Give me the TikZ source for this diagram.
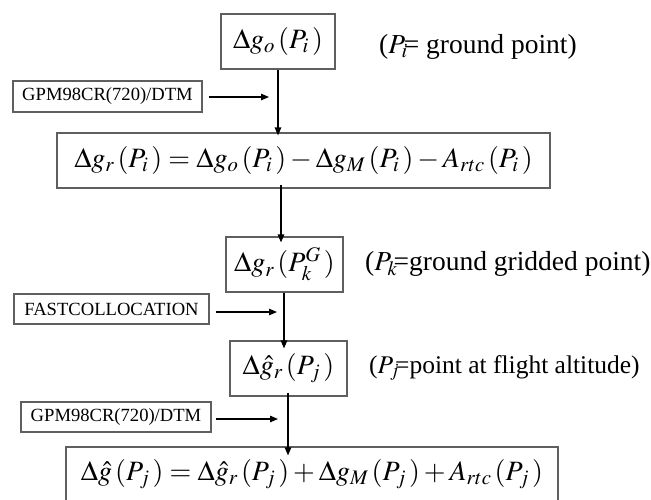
\documentclass[tikz,border=0pt]{standalone}
\usepackage{mathptmx}
\usepackage[no-math]{fontspec}
\setmainfont{Liberation Serif}
\usetikzlibrary{arrows.meta}
\definecolor{boxgray}{RGB}{95,95,95}
\newcommand{\gp}{\mkern2mu}
\begin{document}
\begin{tikzpicture}[x=1pt,y=-1pt,
  box/.style={draw=boxgray, line width=1.2pt, inner sep=0pt, anchor=center},
  big/.style={font=\fontsize{28}{32}\selectfont},
  small/.style={font=\fontsize{18.6}{22}\selectfont},
  arr/.style={-{Triangle[length=8pt,width=6.5pt]}, line width=1.2pt, black},
  note/.style={anchor=west, inner sep=0pt, font=\fontsize{27.5}{30}\selectfont}]
\useasboundingbox (0,0) rectangle (651,499);

% main boxes
\node[box,big,minimum width=114pt,minimum height=55pt] (b1) at (278,41.5) {$\Delta g_o\gp(P_i\gp)$};
\node[box,big,minimum width=493pt,minimum height=55pt] (b2) at (303.5,160.5)
  {$\Delta g_r\gp(P_i\gp)=\Delta g_o\gp(P_i\gp)-\Delta g_M\gp(P_i\gp)-A_{rtc}\gp(P_i\gp)$};
\node[box,big,minimum width=117pt,minimum height=55pt] (b3) at (284.5,264.5) {$\Delta g_r\gp(P_k^G\gp)$};
\node[box,big,minimum width=117pt,minimum height=55pt] (b4) at (288.5,368.5) {$\Delta \hat{g}_r\gp(P_j\gp)$};
\node[box,big,minimum width=492pt,minimum height=55pt] (b5) at (312,474.5)
  {$\Delta \hat{g}\gp(P_j\gp)=\Delta \hat{g}_r\gp(P_j\gp)+\Delta g_M\gp(P_j\gp)+A_{rtc}\gp(P_j\gp)$};

% side boxes
\node[box,small,minimum width=189pt,minimum height=31pt] (g1) at (107.5,96.5) {GPM98CR(720)/DTM};
\node[box,small,minimum width=195pt,minimum height=30pt] (fc) at (111.5,309) {FASTCOLLOCATION};
\node[box,small,minimum width=190pt,minimum height=30pt] (g3) at (116,417) {GPM98CR(720)/DTM};

% annotations
\node[note] (n1) at (379,47) {($P_i$\kern-4pt= ground point)};
\node[note] (n2) at (365,264) {($P_k$\kern-4pt=ground gridded point)};
\node[note,font=\fontsize{25.5}{28}\selectfont] (n3) at (369,368) {($P_j$\kern-4pt=point at flight altitude)};

% arrow coordinates
\coordinate (e1) at (269,97);
\coordinate (e2) at (277,312);
\coordinate (e3) at (278,419);
\coordinate (v2) at (281,0);
\coordinate (v3) at (284,0);
\coordinate (v4) at (288,0);

% vertical arrows
\draw[arr] (b1.south) -- ([yshift=-3pt]b2.north -| b1.south);
\draw[arr] ([yshift=4pt]b2.south -| v2) -- ([yshift=-6pt]b3.north -| v2);
\draw[arr] (b3.south -| v3) -- ([yshift=-8pt]b4.north -| v3);
\draw[arr] ([yshift=4pt]b4.south -| v4) -- ([yshift=-9pt]b5.north -| v4);

% horizontal arrows
\draw[arr] ([xshift=6pt]g1.east |- e1) -- (e1);
\draw[arr] ([xshift=6pt]fc.east |- e2) -- (e2);
\draw[arr] ([xshift=4pt]g3.east |- e3) -- (e3);
\end{tikzpicture}
\end{document}
